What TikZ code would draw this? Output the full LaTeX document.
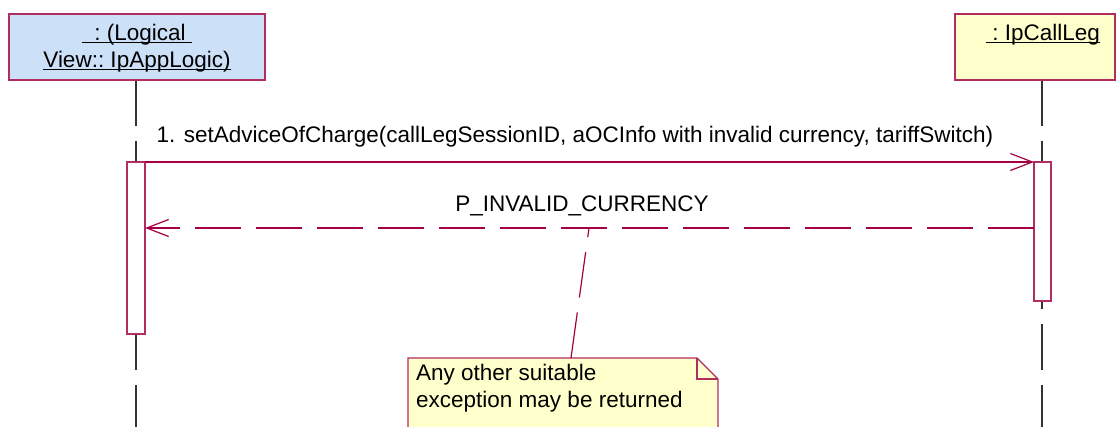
\documentclass[tikz,border=0pt]{standalone}
\usepackage{fontspec}
\setmainfont{Liberation Sans}
\usetikzlibrary{arrows.meta}
\definecolor{umlline}{RGB}{165,0,68}
\definecolor{umlborder}{RGB}{175,45,95}
\definecolor{objblue}{RGB}{204,224,248}
\definecolor{noteyellow}{RGB}{255,255,204}
\newcommand\ulbox[1]{\setbox0\hbox{#1}\rlap{\rule[-3pt]{\wd0}{1.1pt}}\box0}
\tikzset{
  objbox/.style={draw=umlborder, line width=1.4pt, inner sep=0pt},
  actbox/.style={draw=umlborder, fill=white, line width=1.3pt, inner sep=0pt},
  lifeline/.style={draw=black!80, line width=1.3pt, dash pattern=on 46pt off 15pt},
  msg/.style={draw=umlline, line width=1.2pt, -{Straight Barb[length=22pt,width=17pt]}},
  retmsg/.style={msg, dash pattern=on 46pt off 15pt},
  anchorline/.style={draw=umlline, line width=1.2pt, dash pattern=on 46pt off 15pt},
  lbl/.style={inner sep=0pt, font=\fontsize{22.5}{27}\selectfont},
}
\begin{document}
\begin{tikzpicture}[x=1pt,y=-1pt]
\useasboundingbox (0,0) rectangle (1116,426);
% lifelines
\coordinate (llTop) at (136,80);
\coordinate (llBot) at (136,430);
\coordinate (rlTop) at (1042,80);
\coordinate (rlBot) at (1042,430);
\draw[lifeline] (llTop) -- (llBot);
\draw[lifeline] (rlTop) -- (rlBot);
% object boxes
\node[objbox, fill=objblue, minimum width=256pt, minimum height=66pt] (appbox) at (137,47) {};
\node[objbox, fill=noteyellow, minimum width=160pt, minimum height=66pt] (legbox) at (1035,47) {};
\node[lbl, anchor=base] (app1) at (137,40) {\ulbox{\ \ :\ (Logical\ }};
\node[lbl, anchor=base] (app2) at (137,67) {\ulbox{View::\ IpAppLogic)}};
\node[lbl, anchor=base] (leg1) at (1043,40) {\ulbox{\ :\ IpCallLeg}};
% activations
\node[actbox, minimum width=18pt, minimum height=172pt] (actL) at (136,248) {};
\node[actbox, minimum width=17pt, minimum height=139pt] (actR) at (1042.5,231.5) {};
% messages
\coordinate (m1s) at (145,162);
\coordinate (m1e) at (1034,162);
\draw[msg] (m1s) -- (m1e);
\node[lbl, anchor=base] (m1lbl) at (575,142) {1. setAdviceOfCharge(callLegSessionID, aOCInfo with invalid currency, tariffSwitch)};
\coordinate (m2s) at (1034,228);
\coordinate (m2e) at (145,228);
\draw[retmsg] (m2s) -- (m2e);
\node[lbl, anchor=base] (m2lbl) at (582,211) {P\_INVALID\_CURRENCY};
% note
\coordinate (nA) at (408,358);
\coordinate (nB) at (697,358);
\coordinate (nC) at (718,379);
\coordinate (nD) at (718,430);
\coordinate (nE) at (408,430);
\coordinate (nF) at (697,379);
\draw[draw=umlborder, fill=noteyellow, line width=1.4pt] (nA) -- (nB) -- (nC) -- (nD) -- (nE) -- cycle;
\draw[draw=umlborder, line width=1.1pt] (nB) -- (nF) -- (nC);
\node[lbl, anchor=base west] (note1) at (416,380) {Any other suitable};
\node[lbl, anchor=base west] (note2) at (416,407) {exception may be returned};
\coordinate (noteTop) at (571,358);
\coordinate (retPt) at (589,228);
\draw[anchorline] (noteTop) -- (retPt);
\end{tikzpicture}
\end{document}
